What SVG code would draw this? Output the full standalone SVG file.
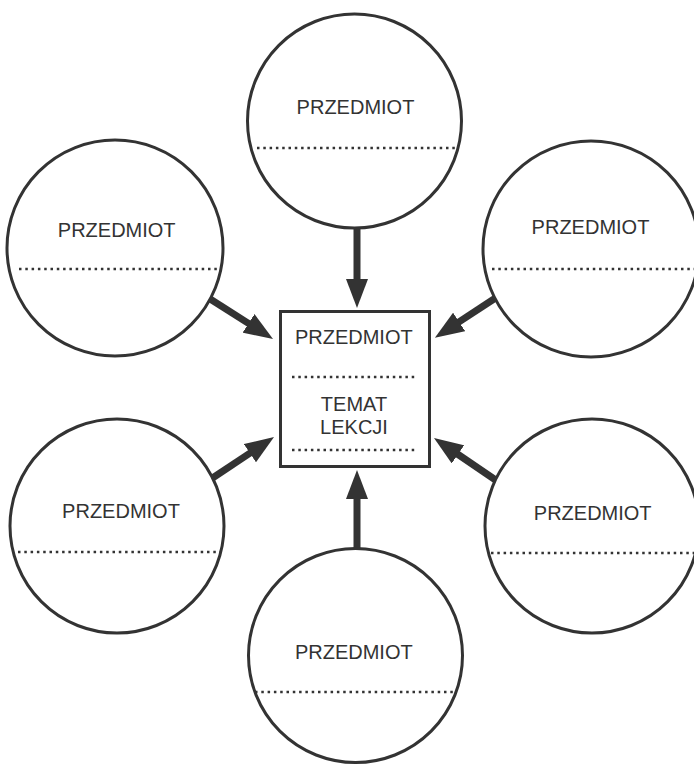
<svg xmlns="http://www.w3.org/2000/svg" width="694" height="764" viewBox="0 0 694 764">
<defs>
<style>
.c{fill:#fff;stroke:#333;stroke-width:3}
.d{stroke:#333;stroke-width:2.6;stroke-dasharray:2.5 3.8;fill:none}
.t{font-family:"Liberation Sans",Arial,sans-serif;font-size:20px;fill:#333;text-anchor:middle}
.a{stroke:#333;stroke-width:7;fill:none;marker-end:url(#ah)}
</style>
<marker id="ah" viewBox="0 0 29 22" refX="6" refY="11" markerWidth="29" markerHeight="22" markerUnits="userSpaceOnUse" orient="auto">
<path d="M0,0 L29,11 L0,22 z" fill="#333"/>
</marker>
</defs>
<rect width="694" height="764" fill="#fff"/>
<g id="connectors">
<line class="a" x1="357" y1="226" x2="357" y2="285"/>
<line class="a" x1="207" y1="297" x2="253.6" y2="326.6"/>
<line class="a" x1="497" y1="297" x2="454.1" y2="325.2"/>
<line class="a" x1="211" y1="479" x2="254.9" y2="449.8"/>
<line class="a" x1="500" y1="483" x2="453" y2="451"/>
<line class="a" x1="357" y1="550" x2="357" y2="493"/>
</g>
<g id="n-top">
<circle class="c" cx="354.5" cy="121" r="107"/>
<text class="t" x="355.5" y="114">PRZEDMIOT</text>
<line class="d" x1="257" y1="148" x2="458" y2="148"/>
</g>
<g id="n-left-upper">
<circle class="c" cx="115" cy="248" r="108"/>
<text class="t" x="116.7" y="237">PRZEDMIOT</text>
<line class="d" x1="19" y1="269" x2="219" y2="269"/>
</g>
<g id="n-right-upper">
<circle class="c" cx="591" cy="249" r="108"/>
<text class="t" x="590.5" y="234">PRZEDMIOT</text>
<line class="d" x1="492" y1="269" x2="694" y2="269"/>
</g>
<g id="n-left-lower">
<circle class="c" cx="117" cy="526" r="107"/>
<text class="t" x="121" y="518">PRZEDMIOT</text>
<line class="d" x1="18" y1="552" x2="220" y2="552"/>
</g>
<g id="n-right-lower">
<circle class="c" cx="592" cy="526" r="107"/>
<text class="t" x="592.7" y="520">PRZEDMIOT</text>
<line class="d" x1="491" y1="553" x2="694" y2="553"/>
</g>
<g id="n-bottom">
<circle class="c" cx="355.5" cy="655.5" r="107"/>
<text class="t" x="353.8" y="659">PRZEDMIOT</text>
<line class="d" x1="255" y1="692" x2="457" y2="692"/>
</g>
<g id="n-center">
<rect x="280.5" y="311.5" width="149" height="155" fill="#fff" stroke="#333" stroke-width="3"/>
<text class="t" x="353.8" y="344">PRZEDMIOT</text>
<line class="d" x1="292" y1="377" x2="418" y2="377"/>
<text class="t" x="354" y="411">TEMAT</text>
<text class="t" x="354" y="434">LEKCJI</text>
<line class="d" x1="292" y1="450" x2="418" y2="450"/>
</g>
</svg>
